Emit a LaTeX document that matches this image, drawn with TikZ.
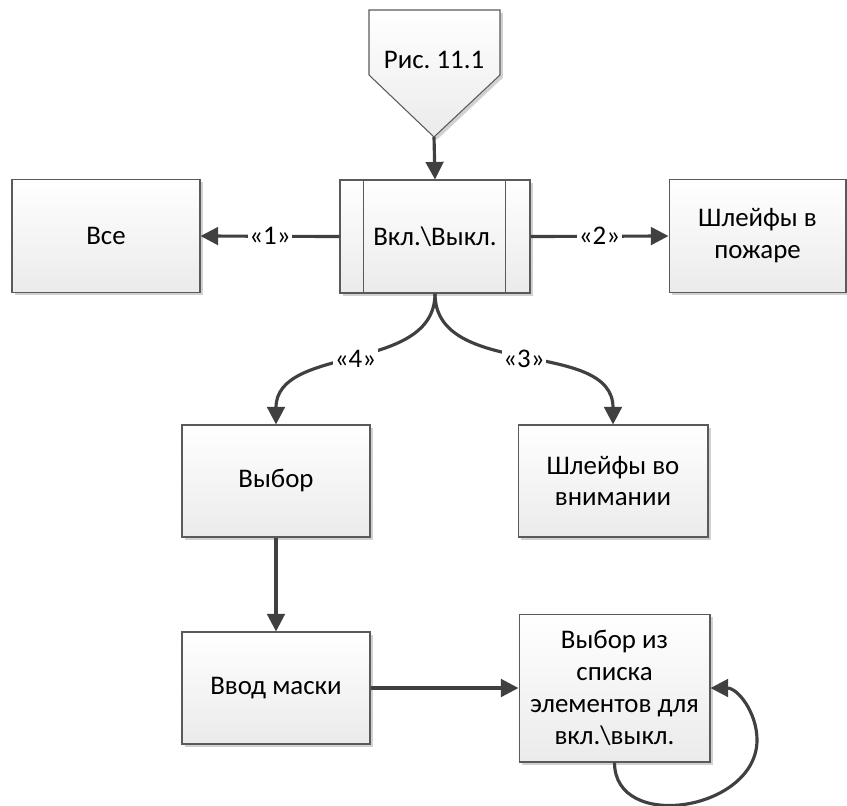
\documentclass[tikz,border=0pt]{standalone}
\usepackage{fontspec}
\setmainfont{Carlito}
\usepackage{xcolor}
\usepackage{tikz}
\usetikzlibrary{arrows.meta,shadows}
\definecolor{lineGray}{HTML}{404040}
\definecolor{edgeGray}{HTML}{5A5A5A}
\frenchspacing

\begin{document}
\begin{tikzpicture}[x=0.02cm, y=0.02cm,
  every node/.style={font=\fontsize{15.3}{18.2}\selectfont},
  box/.style={draw=edgeGray, line width=0.6pt, top color=white, bottom color=black!8,
    drop shadow={shadow xshift=1.6pt, shadow yshift=-1.6pt, fill=black!18, opacity=1},
    minimum width=3.76cm, minimum height=2.26cm, align=center, inner sep=2pt},
  conn/.style={draw=lineGray, line width=1.8pt, -{Triangle[length=10pt,width=10pt]}},
  lbl/.style={fill=white, inner sep=1pt}]
  \useasboundingbox (0,0) rectangle (847,-805);

  % off-page reference
  \draw[draw=edgeGray, line width=0.6pt, top color=white, bottom color=black!8,
    drop shadow={shadow xshift=1.6pt, shadow yshift=-1.6pt, fill=black!18, opacity=1}]
    (369,-10) -- (500,-10) -- (500,-75) -- (434,-137) -- (369,-75) -- cycle;
  \node (ric) at (434,-60) {Рис. 11.1};
  \coordinate (rictip) at (434,-137);

  % boxes
  \node[box, minimum width=3.8cm] (vkl) at (435,-236.5) {Вкл.\textbackslash Выкл.};
  \draw[edgeGray, line width=0.6pt] ([xshift=0.48cm]vkl.north west) -- ([xshift=0.48cm]vkl.south west);
  \draw[edgeGray, line width=0.6pt] ([xshift=-0.5cm]vkl.north east) -- ([xshift=-0.5cm]vkl.south east);
  \node[box] (vse) at (106,-236) {Все};
  \node[box, minimum width=3.54cm] (fire) at (757.5,-236) {Шлейфы в\\пожаре};
  \node[box, minimum height=2.24cm] (vybor) at (276,-481) {Выбор};
  \node[box, minimum width=3.8cm, minimum height=2.24cm] (attn) at (613,-481) {Шлейфы во\\внимании};
  \node[box, minimum height=2.24cm] (mask) at (276,-688) {Ввод маски};
  \node[box, minimum width=3.82cm, minimum height=2.96cm] (list) at (614.5,-688)
    {Выбор из\\списка\\элементов для\\вкл.\textbackslash выкл.};

  % connectors
  \draw[conn] (rictip) -- (vkl.north);
  \draw[conn] (vkl.west) -- node[lbl]{«1»} (vse.east);
  \draw[conn] (vkl.east) -- node[lbl]{«2»} (fire.west);
  \draw[conn] (vkl.south) to[out=-90,in=90] node[lbl]{«4»} (vybor.north);
  \draw[conn] (vkl.south) to[out=-90,in=90] node[lbl]{«3»} (attn.north);
  \draw[conn] (vybor.south) -- (mask.north);
  \draw[conn] (mask.east) -- (list.west);
  \coordinate (loop) at (757,-740);
  \draw[conn] (list.south) to[out=-90,in=-90,looseness=1.25] (loop) to[out=90,in=0] (list.east);
\end{tikzpicture}
\end{document}
